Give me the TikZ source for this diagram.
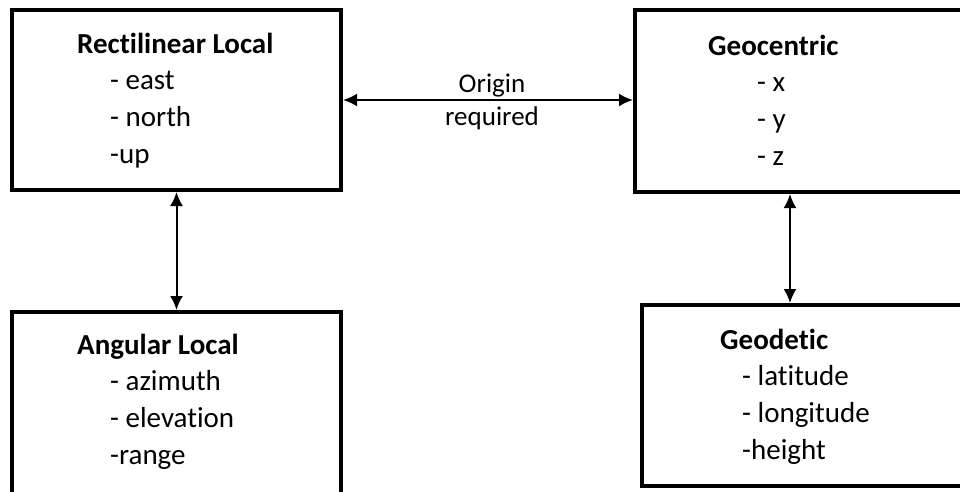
\documentclass[tikz,border=0pt]{standalone}
\usepackage{fontspec}
\setmainfont{Carlito}[Ligatures=NoCommon]
\usepackage{tikz}
\usetikzlibrary{arrows.meta,calc,positioning}

\begin{document}
\begin{tikzpicture}[x=1pt,y=-1pt]

\tikzset{frame/.style = {shape=rectangle,draw,line width=4pt,inner sep=0pt}}
\tikzset{txt/.style = {anchor=base west,align=left,inner sep=0pt,font=\fontsize{29}{36.6}\selectfont}}
\tikzset{edge/.style = {{Latex[length=14pt,width=13pt]}-{Latex[length=14pt,width=13pt]},line width=2pt}}

\clip (0,0) rectangle (960,491);
\fill[white] (0,0) rectangle (960,491);

% frames
\node[frame,minimum width=329pt,minimum height=180pt] (rl) at (176.5,100) {};
\node[frame,minimum width=350pt,minimum height=182pt] (gc) at (810,101) {};
\node[frame,minimum width=329pt,minimum height=208pt] (al) at (176.5,416) {};
\node[frame,minimum width=348pt,minimum height=181pt] (gd) at (816,395.5) {};

% texts (anchored at the baseline of the last line)
\node[txt] (rl-txt) at (77,163) {\textbf{Rectilinear Local}\\\hspace{33pt}- east\\\hspace{33pt}- north\\\hspace{33pt}-up};
\node[txt] (gc-txt) at (708,165) {\textbf{Geocentric}\\\hspace{49pt}- x\\\hspace{49pt}- y\\\hspace{49pt}- z};
\node[txt] (al-txt) at (77,464) {\textbf{Angular Local}\\\hspace{33pt}- azimuth\\\hspace{33pt}- elevation\\\hspace{33pt}-range};
\node[txt] (gd-txt) at (720,459) {\textbf{Geodetic}\\\hspace{22pt}- latitude\\\hspace{22pt}- longitude\\\hspace{22pt}-height};

%edges
\draw[edge] (rl.east) -- (rl.east -| gc.west)
  node[midway,xshift=4pt,yshift=-2pt,align=center,font=\fontsize{27}{33}\selectfont] (orig) {Origin\\required};
\draw[edge] (rl.south) -- (al.north);
\draw[edge] ([xshift=157pt]gc.south west) -- ([xshift=150pt]gd.north west);
\end{tikzpicture}
\end{document}
